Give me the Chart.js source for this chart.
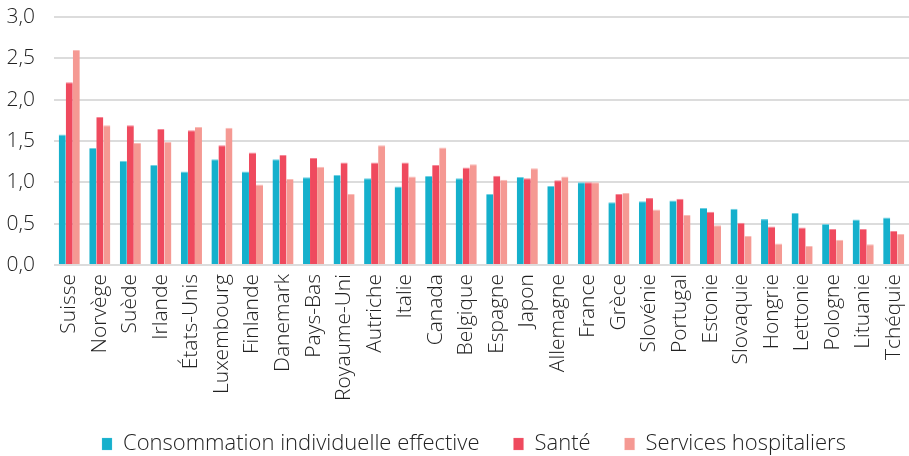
<!DOCTYPE html>
<html>
<head>
<meta charset="utf-8">
<script src="https://cdn.jsdelivr.net/npm/chart.js@4"></script>
<style>
html,body{margin:0;padding:0;background:#fff;}
#wrap{width:909px;height:456px;position:relative;}
</style>
</head>
<body>
<div id="wrap"><canvas id="c" width="909" height="456"></canvas></div>
<script>
const categories = ["Suisse","Norvège","Suède","Irlande","États-Unis","Luxembourg","Finlande","Danemark","Pays-Bas","Royaume-Uni","Autriche","Italie","Canada","Belgique","Espagne","Japon","Allemagne","France","Grèce","Slovénie","Portugal","Estonie","Slovaquie","Hongrie","Lettonie","Pologne","Lituanie","Tchéquie"];
const consommation = [1.58,1.415,1.26,1.21,1.13,1.28,1.13,1.28,1.06,1.09,1.05,0.95,1.077,1.05,0.86,1.065,0.955,1.0,0.76,0.77,0.78,0.69,0.68,0.555,0.63,0.495,0.55,0.575];
const sante = [2.21,1.79,1.69,1.645,1.63,1.45,1.36,1.33,1.295,1.24,1.24,1.24,1.21,1.18,1.08,1.05,1.025,1.0,0.86,0.81,0.80,0.645,0.51,0.465,0.455,0.435,0.435,0.41];
const hospitaliers = [2.60,1.69,1.475,1.49,1.67,1.66,0.975,1.04,1.19,0.86,1.45,1.07,1.42,1.22,1.03,1.17,1.07,1.0,0.87,0.67,0.605,0.48,0.35,0.26,0.23,0.305,0.25,0.375];
const seriesNames = ["Consommation individuelle effective","Santé","Services hospitaliers"];
const yTicks = [0,0.5,1,1.5,2,2.5,3];

const FONT = "'Open Sans', sans-serif";
const FS = 21;
const LFS = 22;
const colors = ["#15b0cc","#ef4a5e","#f59993"];
const borders = ["#6fd0e2","#f58797","#f9bcb7"];

const legendPos = {
  id: 'legendPos',
  afterLayout(chart) {
    const L = chart.legend;
    if (!L) return;
    const pad = L.options.labels.padding;
    const dy = (444 - LFS / 2) - (L.top + pad);
    L.top += dy; L.bottom += dy;
    const totalW = L.lineWidths ? L.lineWidths[0] : 0;
    const curStart = (L.left + pad + L.right - totalW) / 2;
    const dx = 102 - curStart;
    L.left += dx; L.right += dx;
  }
};

new Chart(document.getElementById('c'), {
  type: 'bar',
  data: {
    labels: categories,
    datasets: [consommation, sante, hospitaliers].map((d,i)=>({
      label: seriesNames[i],
      data: d,
      backgroundColor: colors[i],
      borderColor: borders[i],
      borderWidth: {top:1,left:0,right:0,bottom:0},
      categoryPercentage: 0.69,
      barPercentage: 1.0
    }))
  },
  plugins: [legendPos],
  options: {
    responsive: false,
    animation: false,
    layout: {padding: {top: 17, right: 0, left: 0, bottom: -40}},
    plugins: {
      tooltip: {enabled:false},
      legend: {
        position: 'bottom',
        labels: {
          font: {family: FONT, size: LFS, weight: '300'},
          color: '#222',
          boxWidth: 10,
          boxHeight: 12,
          padding: 34
        }
      }
    },
    scales: {
      x: {
        afterFit: s => { s.height = 165; s.paddingLeft = 0; s.paddingRight = 0; },
        grid: {display: false},
        border: {display: false},
        ticks: {
          font: {family: FONT, size: FS, weight: '300'},
          color: '#222',
          minRotation: 90,
          maxRotation: 90,
          autoSkip: false,
          padding: 1
        }
      },
      y: {
        min: 0, max: 3,
        afterBuildTicks: s => { s.ticks = yTicks.map(v=>({value:v})); },
        afterFit: s => { s.width = 54; s.paddingTop = 0; s.paddingBottom = 0; },
        grid: {color: '#dcdcdc', lineWidth: 2, drawTicks: false},
        border: {display: false},
        ticks: {
          font: {family: FONT, size: FS, weight: '300'},
          color: '#222',
          padding: 19,
          callback: v => v.toFixed(1).replace('.', ',')
        }
      }
    }
  }
});
</script>
</body>
</html>
